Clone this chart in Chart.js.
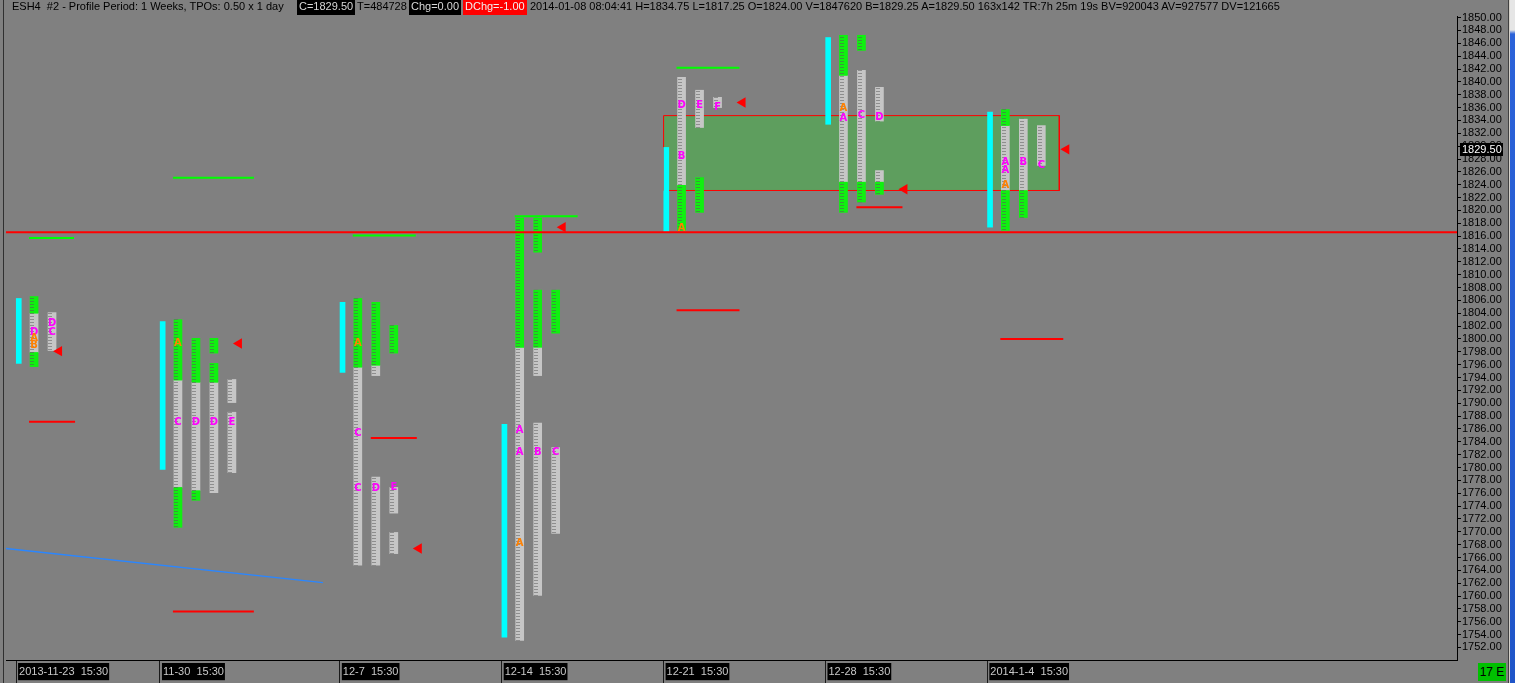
<!DOCTYPE html>
<html>
<head>
<meta charset="utf-8">
<script src="https://cdn.jsdelivr.net/npm/chart.js@4.4.1/dist/chart.umd.min.js"></script>
<style>
  html, body { margin: 0; padding: 0; background: #808080; overflow: hidden; }
  #wrap { position: relative; width: 1515px; height: 683px; background: #808080; }
  #chart { position: absolute; left: 0; top: 0; }
  .hd { position: absolute; top: 0; height: 15px; line-height: 15px; font: 11px "Liberation Sans", Arial, sans-serif; color: #000; white-space: pre; }
  .bx { background: #000; color: #d8d8d8; padding: 0 2px; }
  .rd { background: #ff0000; color: #f0f0f0; padding: 0 2px; }
  .edge { position: absolute; top: 0; height: 683px; }
  #bars { position: absolute; left: 1478px; top: 663px; width: 28px; height: 18px; background: #00c000; color: #000; font: 12px "Liberation Sans Narrow", "Liberation Sans", sans-serif; line-height: 18px; text-align: center; }
</style>
</head>
<body>
<div id="wrap">
  <canvas id="chart" width="1515" height="683"></canvas>
  <div class="hd" style="left:12px">ESH4  #2 - Profile Period: 1 Weeks, TPOs: 0.50 x 1 day</div>
  <div class="hd bx" style="left:297px">C=1829.50</div>
  <div class="hd" style="left:357px">T=484728</div>
  <div class="hd bx" style="left:409px">Chg=0.00</div>
  <div class="hd rd" style="left:463px">DChg=-1.00</div>
  <div class="hd" style="left:530px">2014-01-08 08:04:41 H=1834.75 L=1817.25 O=1824.00 V=1847620 B=1829.25 A=1829.50 163x142 TR:7h 25m 19s BV=920043 AV=927577 DV=121665</div>
  <div class="edge" style="left:3px;width:1px;background:#303030"></div>
  <div class="edge" style="left:1508px;width:1px;background:#404040"></div>
  <div class="edge" style="left:1509px;width:1px;background:#d4d0c8"></div>
  <div class="edge" style="left:1510px;width:5px;background:linear-gradient(#e6e6e6 0, #e6e6e6 30px, #2b62d9 34px, #1f55c8 100%)"></div>
  <div id="bars">17 E</div>
</div>
<script>
(function () {
  'use strict';

  // weekly profile periods (x unit = one TPO letter column)
  var PERIOD_START = [0, 8, 18, 27, 36, 45, 54];
  var PERIOD_LABELS = ['2013-11-23  15:30', '11-30  15:30', '12-7  15:30', '12-14  15:30', '12-21  15:30', '12-28  15:30', '2014-1-4  15:30'];
  var RANGE_LOW = [1796.2, 1779.7, 1794.8, 1753.6, 1816.75, 1833.4, 1817.4];
  var RANGE_HIGH = [1806.3, 1802.7, 1805.7, 1786.7, 1829.8, 1846.9, 1835.3];

  var Y_TICKS = [1850, 1848, 1846, 1844, 1842, 1840, 1838, 1836, 1834, 1832, 1830, 1828, 1826, 1824, 1822, 1820,
    1818, 1816, 1814, 1812, 1810, 1808, 1806, 1804, 1802, 1800, 1798, 1796, 1794, 1792, 1790, 1788, 1786, 1784,
    1782, 1780, 1778, 1776, 1774, 1772, 1770, 1768, 1766, 1764, 1762, 1760, 1758, 1756, 1754, 1752];

  // [column, low, high]
  var GRAY_SEGMENTS = [
    [1, 1797.9, 1804.0], [2, 1798.2, 1804.1],
    [9, 1776.9, 1793.6], [10, 1776.4, 1793.25], [11, 1776.1, 1793.25], [12, 1790.1, 1793.7], [12, 1779.2, 1788.6],
    [19, 1764.8, 1795.6], [20, 1794.3, 1795.9], [20, 1764.8, 1778.5], [21, 1772.9, 1776.9], [21, 1766.6, 1769.9],
    [28, 1753.1, 1798.7], [29, 1794.3, 1798.7], [29, 1760.1, 1786.9], [30, 1769.75, 1783.1],
    [37, 1823.9, 1840.7], [38, 1832.9, 1838.7], [39, 1836.0, 1837.6],
    [46, 1824.4, 1841.0], [47, 1824.4, 1841.8], [48, 1833.9, 1839.15], [48, 1824.4, 1826.2],
    [55, 1823.1, 1833.2], [56, 1823.1, 1834.2], [57, 1827.0, 1833.2]
  ];
  var GREEN_SEGMENTS = [
    [1, 1804.0, 1806.6], [1, 1795.7, 1797.9],
    [9, 1793.6, 1803.0], [9, 1770.7, 1776.9], [10, 1793.25, 1800.1], [10, 1774.9, 1776.4], [11, 1797.8, 1800.1], [11, 1793.25, 1796.2],
    [19, 1795.6, 1806.3], [20, 1795.9, 1805.7], [21, 1797.8, 1802.1],
    [28, 1798.7, 1818.8], [29, 1813.5, 1818.8], [29, 1798.7, 1807.6], [30, 1800.9, 1807.6],
    [37, 1816.9, 1823.9], [38, 1819.7, 1825.1],
    [46, 1841.0, 1847.25], [46, 1819.7, 1824.4], [47, 1844.9, 1847.25], [47, 1821.3, 1824.4], [48, 1822.5, 1824.4],
    [55, 1833.2, 1835.7], [55, 1816.9, 1823.1], [56, 1818.9, 1823.1]
  ];

  // [column, price, letter]
  var MAGENTA_MARKS = [
    [1, 1801.0, 'D'], [2, 1802.4, 'D'], [2, 1801.0, 'C'],
    [9, 1787.0, 'C'], [10, 1787.0, 'D'], [11, 1787.0, 'D'], [12, 1787.0, 'E'],
    [19, 1785.3, 'C'], [19, 1776.75, 'C'], [20, 1776.75, 'D'], [21, 1776.9, 'E'],
    [28, 1785.8, 'A'], [28, 1782.4, 'A'], [29, 1782.4, 'B'], [30, 1782.4, 'C'],
    [37, 1836.35, 'D'], [37, 1828.4, 'B'], [38, 1836.35, 'E'], [39, 1836.0, 'F'],
    [46, 1834.3, 'A'], [47, 1834.8, 'C'], [48, 1834.5, 'D'],
    [55, 1827.5, 'A'], [55, 1826.2, 'A'], [56, 1827.5, 'B'], [57, 1827.0, 'C']
  ];
  var ORANGE_MARKS = [
    [1, 1800.1, 'A'], [1, 1799.0, 'B'], [9, 1799.3, 'A'], [19, 1799.3, 'A'], [28, 1768.2, 'A'],
    [37, 1817.2, 'A'], [46, 1835.9, 'A'], [55, 1823.9, 'A']
  ];

  var TRIANGLE_X = [2.39, 12.39, 22.39, 30.39, 40.39, 49.39, 58.39];
  var TRIANGLE_Y = [1798.1, 1799.3, 1767.4, 1817.4, 1836.8, 1823.3, 1829.5];

  // [from column, to column, price]
  var GREEN_LEVELS = [[0.72, 3.22, 1815.7], [8.72, 13.22, 1825.1], [18.72, 22.22, 1816.1], [27.72, 31.22, 1819.1], [36.72, 40.22, 1842.2]];
  var RED_LEVELS = [[0.72, 3.28, 1787.1], [8.72, 13.22, 1757.6], [19.72, 22.28, 1784.6], [36.72, 40.22, 1804.45], [46.72, 49.28, 1820.5], [54.72, 58.22, 1800.0]];

  var VALUE_AREA = [36, 58, 1823.1, 1834.75];
  var REF_LEVEL = 1816.6;
  var TREND_X = [-0.56, 17.06];
  var TREND_Y = [1767.4, 1762.1];
  var LAST_PRICE = 1829.5;
  var X_MIN = -0.56, X_MAX = 80.11;

  function stackPattern(fg, gap) {
    var c = document.createElement('canvas');
    c.width = 9;
    c.height = 6;
    var g = c.getContext('2d');
    g.fillStyle = fg;
    g.fillRect(0, 0, 9, 6);
    g.fillStyle = gap;
    g.fillRect(3, 1, 4, 1);
    g.fillRect(3, 4, 4, 1);
    return g.createPattern(c, 'repeat');
  }

  function segs(list) {
    return list.map(function (s) { return {x: s[0], y: [s[1], s[2]]}; });
  }

  var datasets = [];

  datasets.push({
    type: 'scatter', showLine: true, fill: 'shape', order: 20,
    data: [
      {x: VALUE_AREA[0], y: VALUE_AREA[2]}, {x: VALUE_AREA[0], y: VALUE_AREA[3]},
      {x: VALUE_AREA[1], y: VALUE_AREA[3]}, {x: VALUE_AREA[1], y: VALUE_AREA[2]},
      {x: VALUE_AREA[0], y: VALUE_AREA[2]}
    ],
    backgroundColor: 'rgb(94,158,94)', borderColor: '#ff0000', borderWidth: 1, pointRadius: 0, tension: 0
  });

  datasets.push({
    type: 'bar', order: 6, grouped: false, barThickness: 5,
    data: PERIOD_START.map(function (s, i) { return {x: s + 0.15, y: [RANGE_LOW[i], RANGE_HIGH[i]]}; }),
    backgroundColor: '#00ffff', borderWidth: 0
  });
  datasets.push({
    type: 'bar', order: 5, grouped: false, barThickness: 8,
    data: segs(GRAY_SEGMENTS), backgroundColor: stackPattern('#c6c6c6', '#8e8e8e'), borderWidth: 0
  });
  datasets.push({
    type: 'bar', order: 4, grouped: false, barThickness: 8,
    data: segs(GREEN_SEGMENTS), backgroundColor: stackPattern('#10f010', '#3a9a3a'), borderWidth: 0
  });

  GREEN_LEVELS.forEach(function (l) {
    datasets.push({type: 'line', order: 3, data: [{x: l[0], y: l[2]}, {x: l[1], y: l[2]}], borderColor: '#00ff00', borderWidth: 2, pointRadius: 0});
  });
  RED_LEVELS.forEach(function (l) {
    datasets.push({type: 'line', order: 3, data: [{x: l[0], y: l[2]}, {x: l[1], y: l[2]}], borderColor: '#ff0000', borderWidth: 2, pointRadius: 0});
  });

  datasets.push({
    type: 'line', order: 3, data: [{x: TREND_X[0], y: TREND_Y[0]}, {x: TREND_X[1], y: TREND_Y[1]}],
    borderColor: '#2a86ff', borderWidth: 1.3, pointRadius: 0
  });
  datasets.push({
    type: 'line', order: 1, data: [{x: X_MIN, y: REF_LEVEL}, {x: X_MAX, y: REF_LEVEL}],
    borderColor: '#ff0000', borderWidth: 2, pointRadius: 0
  });
  datasets.push({
    type: 'scatter', order: 0,
    data: TRIANGLE_X.map(function (x, i) { return {x: x, y: TRIANGLE_Y[i]}; }),
    pointStyle: 'triangle', rotation: -90, pointRadius: 6, backgroundColor: '#ff0000', borderColor: '#ff0000', borderWidth: 0
  });
  datasets.push({
    type: 'scatter', order: 2, marks: MAGENTA_MARKS, markColor: '#ff00ff',
    data: MAGENTA_MARKS.map(function (m) { return {x: m[0], y: m[1]}; }), pointRadius: 0
  });
  datasets.push({
    type: 'scatter', order: 2, marks: ORANGE_MARKS, markColor: '#ff8000',
    data: ORANGE_MARKS.map(function (m) { return {x: m[0], y: m[1]}; }), pointRadius: 0
  });

  var letterPlugin = {
    id: 'letters',
    afterDatasetsDraw: function (chart) {
      var ctx = chart.ctx;
      ctx.save();
      ctx.font = 'bold 10px "DejaVu Sans", sans-serif';
      ctx.textAlign = 'center';
      ctx.textBaseline = 'middle';
      chart.data.datasets.forEach(function (ds, di) {
        if (!ds.marks) return;
        var meta = chart.getDatasetMeta(di);
        ctx.fillStyle = ds.markColor;
        meta.data.forEach(function (pt, i) {
          ctx.fillText(ds.marks[i][2], pt.x, pt.y);
        });
      });
      ctx.restore();
    }
  };

  var priceBoxPlugin = {
    id: 'priceBox',
    afterDraw: function (chart) {
      var ctx = chart.ctx;
      var y = chart.scales.y.getPixelForValue(LAST_PRICE);
      var x = chart.chartArea.right + 3;
      ctx.save();
      ctx.fillStyle = '#000';
      ctx.fillRect(x, Math.round(y) - 6, 43, 13);
      ctx.fillStyle = '#ffffff';
      ctx.font = '11px "Liberation Sans", Arial, sans-serif';
      ctx.textBaseline = 'middle';
      ctx.textAlign = 'left';
      ctx.fillText(LAST_PRICE.toFixed(2), x + 2, Math.round(y) + 1);
      ctx.restore();
    }
  };

  new Chart(document.getElementById('chart'), {
    type: 'bar',
    data: {datasets: datasets},
    plugins: [letterPlugin, priceBoxPlugin],
    options: {
      responsive: false,
      animation: false,
      devicePixelRatio: 1,
      layout: {padding: {left: 5, top: 16, right: 6, bottom: 0}},
      plugins: {legend: {display: false}, tooltip: {enabled: false}},
      scales: {
        x: {
          type: 'linear', min: X_MIN, max: X_MAX, offset: false,
          afterBuildTicks: function (axis) { axis.ticks = PERIOD_START.map(function (v) { return {value: v}; }); },
          afterFit: function (axis) { axis.height = 23; },
          grid: {drawOnChartArea: false, drawTicks: true, tickLength: 23, color: '#1a1a1a', offset: false},
          border: {display: true, color: '#000'},
          ticks: {
            autoSkip: false, maxRotation: 0, align: 'start', labelOffset: 3, padding: -18,
            color: '#c8c8c8', font: {family: '"Liberation Sans", Arial, sans-serif', size: 11},
            showLabelBackdrop: true, backdropColor: '#000', backdropPadding: {top: 2, bottom: 2, left: 1, right: 1},
            callback: function (v, i) { return PERIOD_LABELS[i]; }
          }
        },
        y: {
          type: 'linear', position: 'right', min: 1750.05, max: 1850.25,
          afterBuildTicks: function (axis) { axis.ticks = Y_TICKS.map(function (v) { return {value: v}; }); },
          afterFit: function (axis) { axis.width = 52; },
          grid: {drawOnChartArea: false, drawTicks: true, tickLength: 4, color: '#000'},
          border: {display: true, color: '#000'},
          ticks: {
            autoSkip: false, padding: 1, color: '#000',
            font: {family: '"Liberation Sans", Arial, sans-serif', size: 11},
            callback: function (v) { return Number(v).toFixed(2); }
          }
        }
      }
    }
  });
}());
</script>
</body>
</html>
